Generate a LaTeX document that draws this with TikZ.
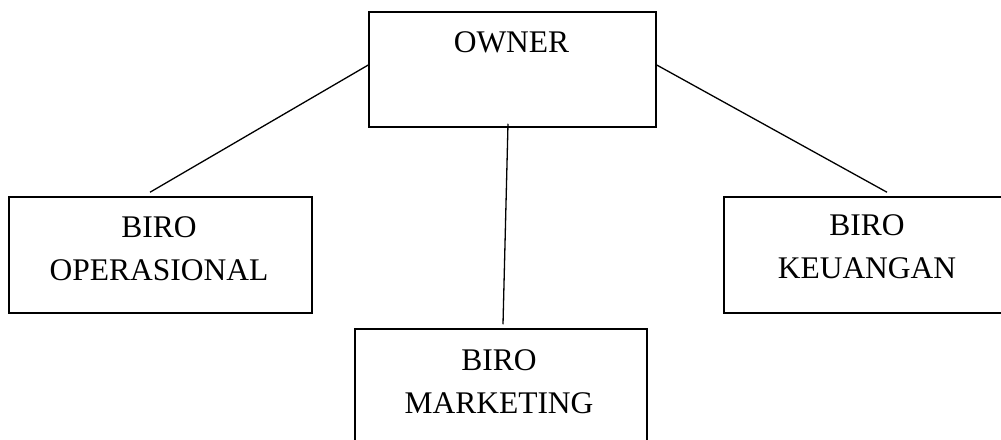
\documentclass[tikz,border=0pt]{standalone}
\usepackage{fontspec}
\setmainfont{Liberation Serif}
\usetikzlibrary{positioning,calc}

\begin{document}
\begin{tikzpicture}[x=1pt,y=-1pt,
  every node/.style={font=\fontsize{31.5}{43}\selectfont},
  unit/.style={draw,line width=1.5pt,inner sep=0pt},
  lbl/.style={align=center,inner sep=0pt,anchor=base},
  link/.style={line width=1.3pt}]
  \clip (0,0) rectangle (1001,439);
  % boxes
  \node[unit,minimum width=287,minimum height=115] (owner) at (512.5,69.5) {};
  \node[unit,minimum width=303,minimum height=116] (oper) at (160.5,255) {};
  \node[unit,minimum width=292,minimum height=116] (mark) at (501,387) {};
  \node[unit,minimum width=286,minimum height=116] (keu) at (867,255) {};
  % texts (base = last line)
  \node[lbl] (ownertxt) at (511.5,52) {OWNER};
  \node[lbl] (opertxt) at (159,280) {BIRO\\OPERASIONAL};
  \node[lbl] (marktxt) at (499,413) {BIRO\\MARKETING};
  \node[lbl] (keutxt) at (867,278) {BIRO\\KEUANGAN};
  % lines
  \draw[link] ($(owner.west)+(0,-4.5)$) -- ($(oper.north)+(-10.5,-4)$);
  \draw[link] ($(owner.south)+(-4.5,-4)$) -- ($(mark.north)+(2,-4)$);
  \draw[link] ($(owner.east)+(0,-4.5)$) -- ($(keu.north)+(20,-4)$);
\end{tikzpicture}
\end{document}
